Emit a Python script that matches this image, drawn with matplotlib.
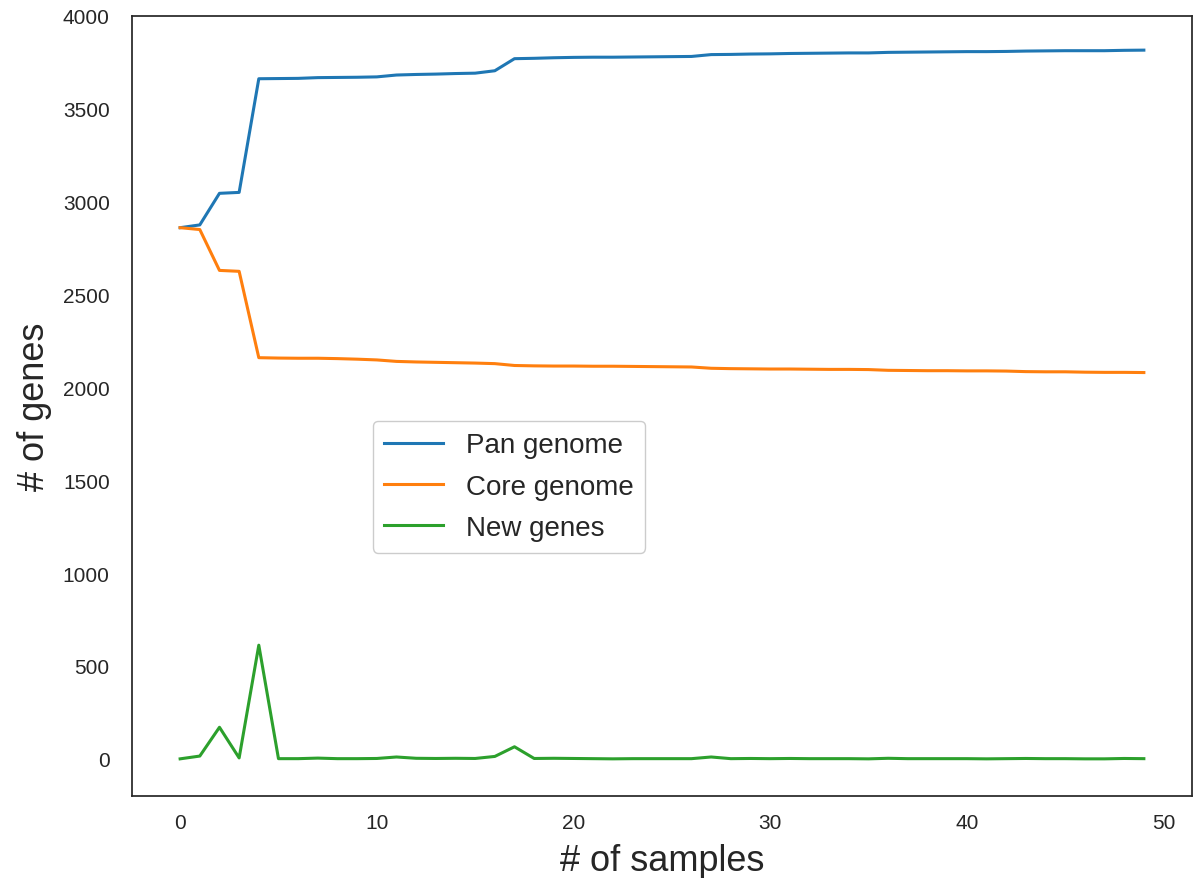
import matplotlib
matplotlib.use("Agg")
import matplotlib.pyplot as plt

plt.rcParams["font.family"] = ["Liberation Sans", "DejaVu Sans"]

# Pan / core genome accumulation over added samples
samples = list(range(50))

pan_genome = [2860, 2875, 3045, 3050, 3662, 3663, 3664, 3668, 3669, 3670,
              3672, 3682, 3685, 3687, 3690, 3692, 3705, 3770, 3772, 3775,
              3777, 3778, 3778, 3779, 3780, 3781, 3782, 3792, 3793, 3795,
              3796, 3798, 3799, 3800, 3801, 3801, 3804, 3805, 3806, 3807,
              3808, 3808, 3809, 3811, 3812, 3813, 3813, 3813, 3815, 3816]

core_genome = [2860, 2850, 2630, 2625, 2160, 2158, 2157, 2157, 2155, 2152,
               2148, 2140, 2137, 2135, 2133, 2131, 2128, 2118, 2116, 2115,
               2115, 2114, 2114, 2113, 2112, 2111, 2110, 2103, 2101, 2100,
               2099, 2099, 2098, 2097, 2097, 2096, 2092, 2091, 2090, 2090,
               2089, 2089, 2088, 2085, 2084, 2084, 2082, 2081, 2081, 2080]

new_genes = [0, 15, 170, 5, 612, 1, 1, 4, 1, 1,
             2, 10, 3, 2, 3, 2, 13, 65, 2, 3,
             2, 1, 0, 1, 1, 1, 1, 10, 1, 2,
             1, 2, 1, 1, 1, 0, 3, 1, 1, 1,
             1, 0, 1, 2, 1, 1, 0, 0, 2, 1]

series_labels = ["Pan genome", "Core genome", "New genes"]
series_colors = ["#1f77b4", "#ff7f0e", "#2ca02c"]

fig = plt.figure(figsize=(11.93, 8.79), dpi=100)
ax = fig.add_axes([0.1106, 0.0933, 0.8886, 0.8874])

for values, label, color in zip([pan_genome, core_genome, new_genes],
                                series_labels, series_colors):
    ax.plot(samples, values, color=color, lw=2.2, label=label)

ax.set_ylim(-200, 4000)
ax.set_yticks([0, 500, 1000, 1500, 2000, 2500, 3000, 3500, 4000])
ax.set_xticks([0, 10, 20, 30, 40, 50])

for side, spine in ax.spines.items():
    spine.set_color("#262626")
    spine.set_linewidth(1.25)

ax.tick_params(axis="both", length=0, labelsize=15, labelcolor="#262626")
ax.tick_params(axis="y", pad=16)
ax.tick_params(axis="x", pad=12)

ax.set_xlabel("# of samples", fontsize=26, color="#262626", labelpad=8)
ax.set_ylabel("# of genes", fontsize=26, color="#262626", labelpad=8)

leg = ax.legend(loc="upper left", bbox_to_anchor=(0.227, 0.481),
                borderaxespad=0, fontsize=20, frameon=True,
                fancybox=True, edgecolor="#cccccc", framealpha=1,
                handlelength=2.1, handletextpad=0.83, labelspacing=0.55,
                borderpad=0.42)
for t in leg.get_texts():
    t.set_color("#262626")

fig.savefig("out.png", dpi=100)
